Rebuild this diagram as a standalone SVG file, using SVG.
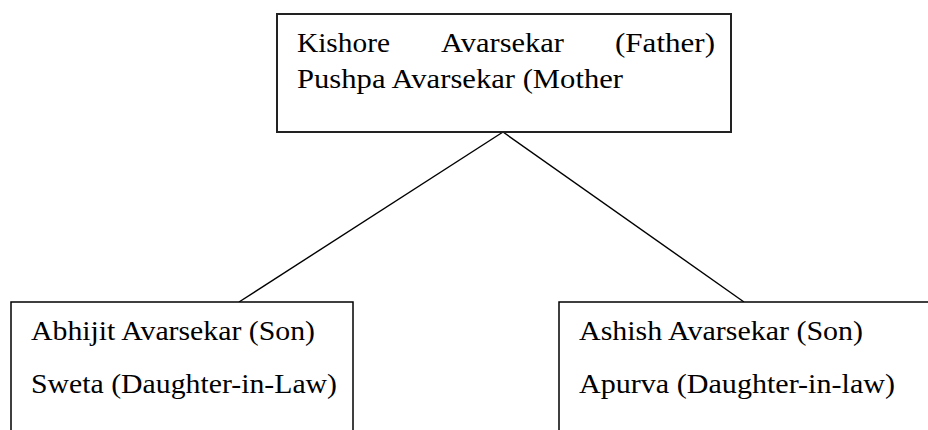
<svg xmlns="http://www.w3.org/2000/svg" width="928" height="430" viewBox="0 0 928 430">
<style>
.box{fill:#fff;stroke:#000;stroke-width:1.5}
.top{stroke:#222;stroke-width:2}
.t{font-family:"Liberation Serif","Times New Roman",serif;font-size:27px;fill:#000}
.c{stroke:#000;stroke-width:1.4;fill:none}
</style>
<rect width="928" height="430" fill="#fff"/>
<g id="connectors">
<line class="c" x1="503" y1="132" x2="239" y2="302"/>
<line class="c" x1="503" y1="132" x2="744" y2="302"/>
</g>
<g id="parents">
<rect class="box top" x="277" y="14" width="454" height="118"/>
<text class="t" x="297" y="52" textLength="93" lengthAdjust="spacingAndGlyphs">Kishore</text>
<text class="t" x="441" y="52" textLength="123" lengthAdjust="spacingAndGlyphs">Avarsekar</text>
<text class="t" x="615" y="52" textLength="100" lengthAdjust="spacingAndGlyphs">(Father)</text>
<text class="t" x="297" y="88" textLength="326" lengthAdjust="spacingAndGlyphs">Pushpa Avarsekar (Mother</text>
</g>
<g id="abhijit">
<rect class="box" x="11" y="302" width="342" height="140"/>
<text class="t" x="31" y="340" textLength="284" lengthAdjust="spacingAndGlyphs">Abhijit Avarsekar (Son)</text>
<text class="t" x="31" y="393" textLength="306" lengthAdjust="spacingAndGlyphs">Sweta (Daughter-in-Law)</text>
</g>
<g id="ashish">
<rect class="box" x="559" y="302" width="372" height="140"/>
<text class="t" x="579" y="340" textLength="284" lengthAdjust="spacingAndGlyphs">Ashish Avarsekar (Son)</text>
<text class="t" x="579" y="393" textLength="316" lengthAdjust="spacingAndGlyphs">Apurva (Daughter-in-law)</text>
</g>
</svg>
